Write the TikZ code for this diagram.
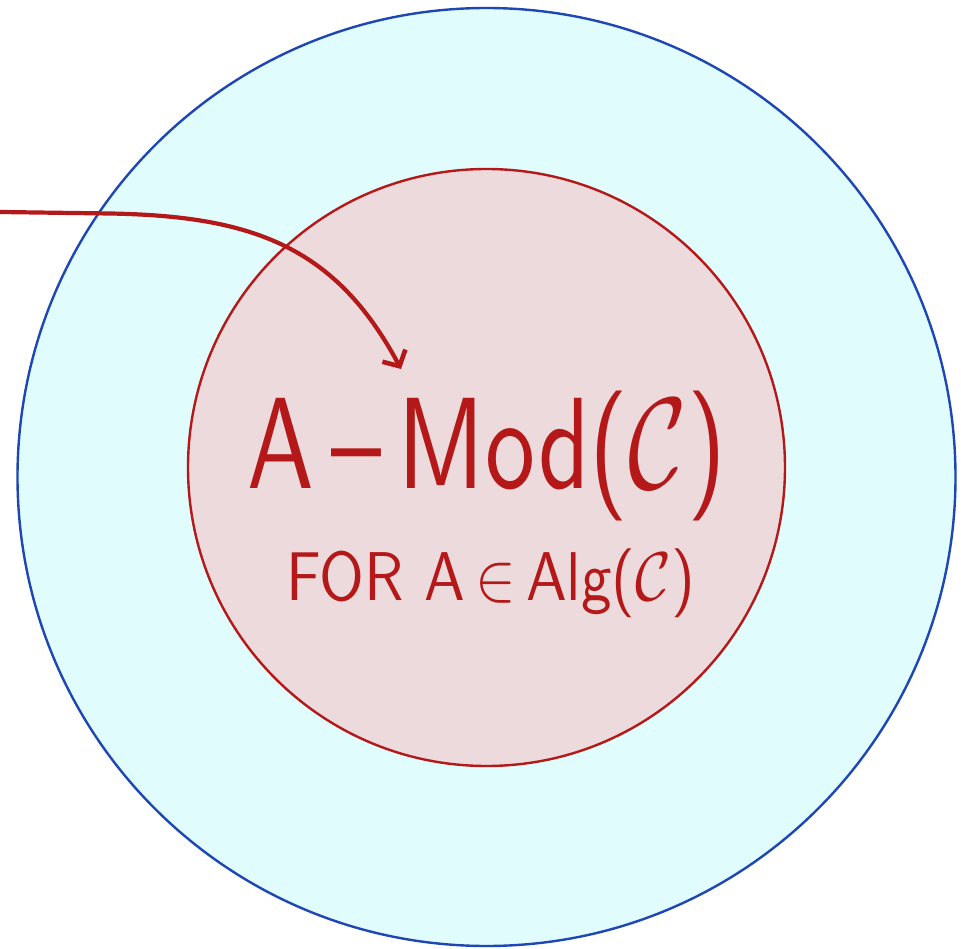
\documentclass[tikz,border=0pt]{standalone}
\usepackage{graphicx}
\usetikzlibrary{arrows.meta}
\definecolor{outerfill}{RGB}{224,252,252}
\definecolor{outerline}{RGB}{30,70,180}
\definecolor{innerfill}{RGB}{236,218,220}
\definecolor{redink}{RGB}{180,24,24}
\begin{document}
\begin{tikzpicture}[x=1pt,y=-1pt,
  ring/.style={circle, inner sep=0pt, line width=2.4pt},
  label/.style={text=redink, inner sep=0pt, anchor=base, font=\sffamily},
  pointer/.style={draw=redink, line width=4.2pt, line cap=round,
    -{Straight Barb[length=12pt,width=26pt,line width=4.6pt]}}]
\useasboundingbox (0,0) rectangle (961,949);
\node[ring, draw=outerline, fill=outerfill, minimum size=938pt] (outer) at (486.5,477) {};
\node[ring, draw=redink, fill=innerfill, minimum size=597pt] (inner) at (486.5,467.5) {};
\node[label] (title) at (487,488) {\scalebox{10}[13]{A\,--\,Mod($\mathcal{C}$)}};
\node[label] (sub) at (491,600) {\scalebox{6.1}[6.9]{FOR A\,$\in$\,Alg($\mathcal{C}$)}};
\coordinate (start) at (0,212);
\coordinate (tip) at (401,369);
\draw[pointer] (start) -- (110,213.5) .. controls (250,216) and (335,245) .. (tip);
\end{tikzpicture}
\end{document}
